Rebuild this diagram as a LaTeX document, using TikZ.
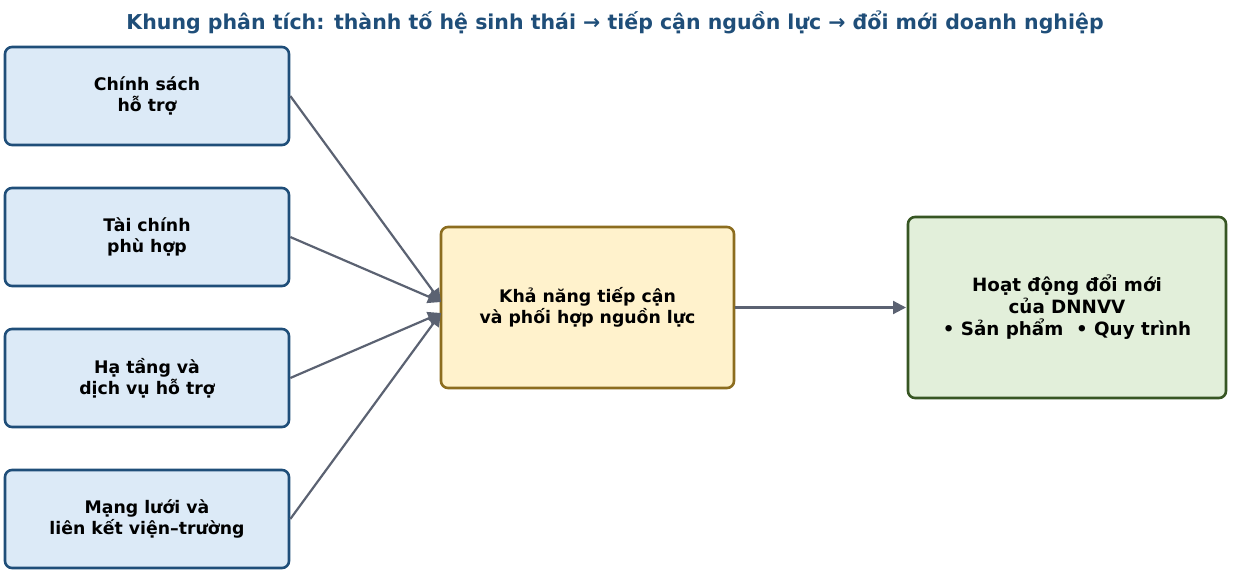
\documentclass[tikz,border=0pt]{standalone}
\usepackage{fontspec}
\setmainfont{DejaVu Sans}
\usetikzlibrary{arrows.meta}
\definecolor{titleblue}{HTML}{1F4E79}
\definecolor{leftfill}{HTML}{DCEAF7}
\definecolor{leftdraw}{HTML}{1F4E79}
\definecolor{midfill}{HTML}{FFF2CC}
\definecolor{middraw}{HTML}{8C6D1F}
\definecolor{rightfill}{HTML}{E2EFDA}
\definecolor{rightdraw}{HTML}{375623}
\definecolor{arrowgray}{HTML}{5B6272}
\tikzset{
  base/.style={rounded corners=7pt, line width=2.6pt, align=center, font=\fontsize{17.3}{21}\selectfont\bfseries, inner sep=0pt},
  leftbox/.style={base, fill=leftfill, draw=leftdraw, minimum width=284pt, minimum height=98pt},
  midbox/.style={base, fill=midfill, draw=middraw, minimum width=293pt, minimum height=161pt},
  rightbox/.style={base, fill=rightfill, draw=rightdraw, minimum width=318pt, minimum height=181pt, font=\fontsize{18.3}{22}\selectfont\bfseries},
  conn/.style={draw=arrowgray, line width=2.2pt, -{Triangle[length=13pt,width=13pt]}},
}
\begin{document}
\begin{tikzpicture}[x=1pt,y=-1pt]
\useasboundingbox (0,0) rectangle (1240,573);
\node[font=\fontsize{20.5}{24}\selectfont\bfseries, text=titleblue] (title) at (615,22) {Khung phân tích: thành tố hệ sinh thái → tiếp cận nguồn lực → đổi mới doanh nghiệp};
\node[leftbox] (a) at (147,96) {Chính sách\\hỗ trợ};
\node[leftbox] (b) at (147,237) {Tài chính\\phù hợp};
\node[leftbox] (c) at (147,378) {Hạ tầng và\\dịch vụ hỗ trợ};
\node[leftbox] (d) at (147,519) {Mạng lưới và\\liên kết viện–trường};
\node[midbox] (m) at (587.5,307.5) {Khả năng tiếp cận\\và phối hợp nguồn lực};
\node[rightbox] (r) at (1067,307.5) {Hoạt động đổi mới\\của DNNVV\\• Sản phẩm\ \ • Quy trình};
\coordinate (m1) at (441,302);
\coordinate (m2) at (441,313);
\coordinate (r1) at (906,307.5);
\draw[conn] (a.east) -- (m1);
\draw[conn] (b.east) -- (m1);
\draw[conn] (c.east) -- (m2);
\draw[conn] (d.east) -- (m2);
\draw[conn] (m.east) -- (r1);
\end{tikzpicture}
\end{document}
